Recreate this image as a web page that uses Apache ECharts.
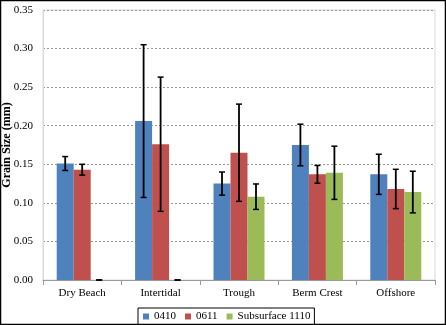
<!DOCTYPE html>
<html><head><meta charset="utf-8">
<script src="https://cdn.jsdelivr.net/npm/echarts@6/dist/echarts.min.js"></script>
<style>html,body{margin:0;padding:0;background:#fff}#c{width:446px;height:325px}</style>
</head><body><div id="c"></div>
<script>
const categories = ['Dry Beach', 'Intertidal', 'Trough', 'Berm Crest', 'Offshore'];
const seriesNames = ['0410', '0611', 'Subsurface 1110'];
const values0410 = [0.151, 0.206, 0.125, 0.175, 0.137];
const values0611 = [0.143, 0.176, 0.165, 0.137, 0.118];
const values1110 = [0.000, 0.000, 0.108, 0.139, 0.114];
const err0410 = [0.009, 0.099, 0.015, 0.027, 0.026];
const err0611 = [0.007, 0.087, 0.063, 0.0115, 0.0255];
const err1110 = [0.0, 0.0, 0.0165, 0.0345, 0.027];
const yTicks = ['0.00','0.05','0.10','0.15','0.20','0.25','0.30','0.35'];

const colors = ['#4F81BD', '#C0504D', '#9BBB59'];
const allVals = [values0410, values0611, values1110];
const allErr = [err0410, err0611, err1110];
const font = '"Liberation Serif", "Times New Roman", serif';
const BW = 17;

const series = [];
allVals.forEach((v, i) => {
  series.push({
    name: seriesNames[i], type: 'bar', data: v, barWidth: BW, barGap: '0%',
    itemStyle: { color: colors[i] }, z: 2
  });
});
allVals.forEach((v, i) => {
  series.push({
    type: 'custom', name: seriesNames[i] + ' err', z: 5,
    data: v.map((val, k) => [k, val - allErr[i][k], val + allErr[i][k]]),
    renderItem: function (params, api) {
      const x = api.value(0);
      const lo = api.coord([x, api.value(1)]);
      const hi = api.coord([x, api.value(2)]);
      const cx = lo[0] + (i - 1) * BW;
      const cap = 3;
      const lw = 1.8;
      return { type: 'group', children: [
        { type: 'line', shape: { x1: cx, y1: hi[1], x2: cx, y2: lo[1] }, style: { stroke: '#000', lineWidth: lw } },
        { type: 'line', shape: { x1: cx - cap, y1: hi[1], x2: cx + cap, y2: hi[1] }, style: { stroke: '#000', lineWidth: 1.5 } },
        { type: 'line', shape: { x1: cx - cap, y1: lo[1], x2: cx + cap, y2: lo[1] }, style: { stroke: '#000', lineWidth: 1.5 } }
      ]};
    },
    silent: true
  });
});

const chart = echarts.init(document.getElementById('c'), null, { renderer: 'canvas' });
chart.setOption({
  animation: false,
  textStyle: { fontFamily: font },
  graphic: [{ type: 'rect', shape: { x: 0.5, y: 0.5, width: 445, height: 324 }, style: { fill: 'none', stroke: '#000', lineWidth: 1.5 }, z: 100 }],
  grid: { left: 43, right: 11, top: 10, bottom: 45, show: true, borderColor: '#d9d9d9', borderWidth: 1,
    containLabel: false, outerBoundsMode: 'none' },
  legend: {
    bottom: 0, left: 138, data: seriesNames,
    borderColor: '#000', borderWidth: 1, padding: [3, 4, 3, 5],
    itemWidth: 6, itemHeight: 6, itemGap: 9, icon: 'rect',
    textStyle: { fontFamily: font, fontSize: 11, color: '#000' }
  },
  xAxis: {
    type: 'category', data: categories,
    axisLine: { lineStyle: { color: '#999', width: 1 } },
    axisTick: { show: true, alignWithLabel: false, length: 5, lineStyle: { color: '#999' } },
    axisLabel: { fontFamily: font, fontSize: 11, color: '#000', margin: 8 }
  },
  yAxis: {
    type: 'value', min: 0, max: 0.35, interval: 0.05,
    name: 'Grain Size (mm)', nameLocation: 'middle', nameGap: 30, nameRotate: 90, nameMoveOverlap: false,
    nameTextStyle: { fontFamily: font, fontSize: 12, fontWeight: 'bold', color: '#000' },
    axisLine: { show: true, lineStyle: { color: '#d9d9d9' } },
    axisTick: { show: false },
    axisLabel: { fontFamily: font, fontSize: 11, color: '#000', margin: 10,
      formatter: function (v) { return yTicks[Math.round(v / 0.05)]; } },
    splitLine: { show: true, lineStyle: { color: '#999', type: [2, 2], width: 1 } }
  },
  series: series
});
</script></body></html>
